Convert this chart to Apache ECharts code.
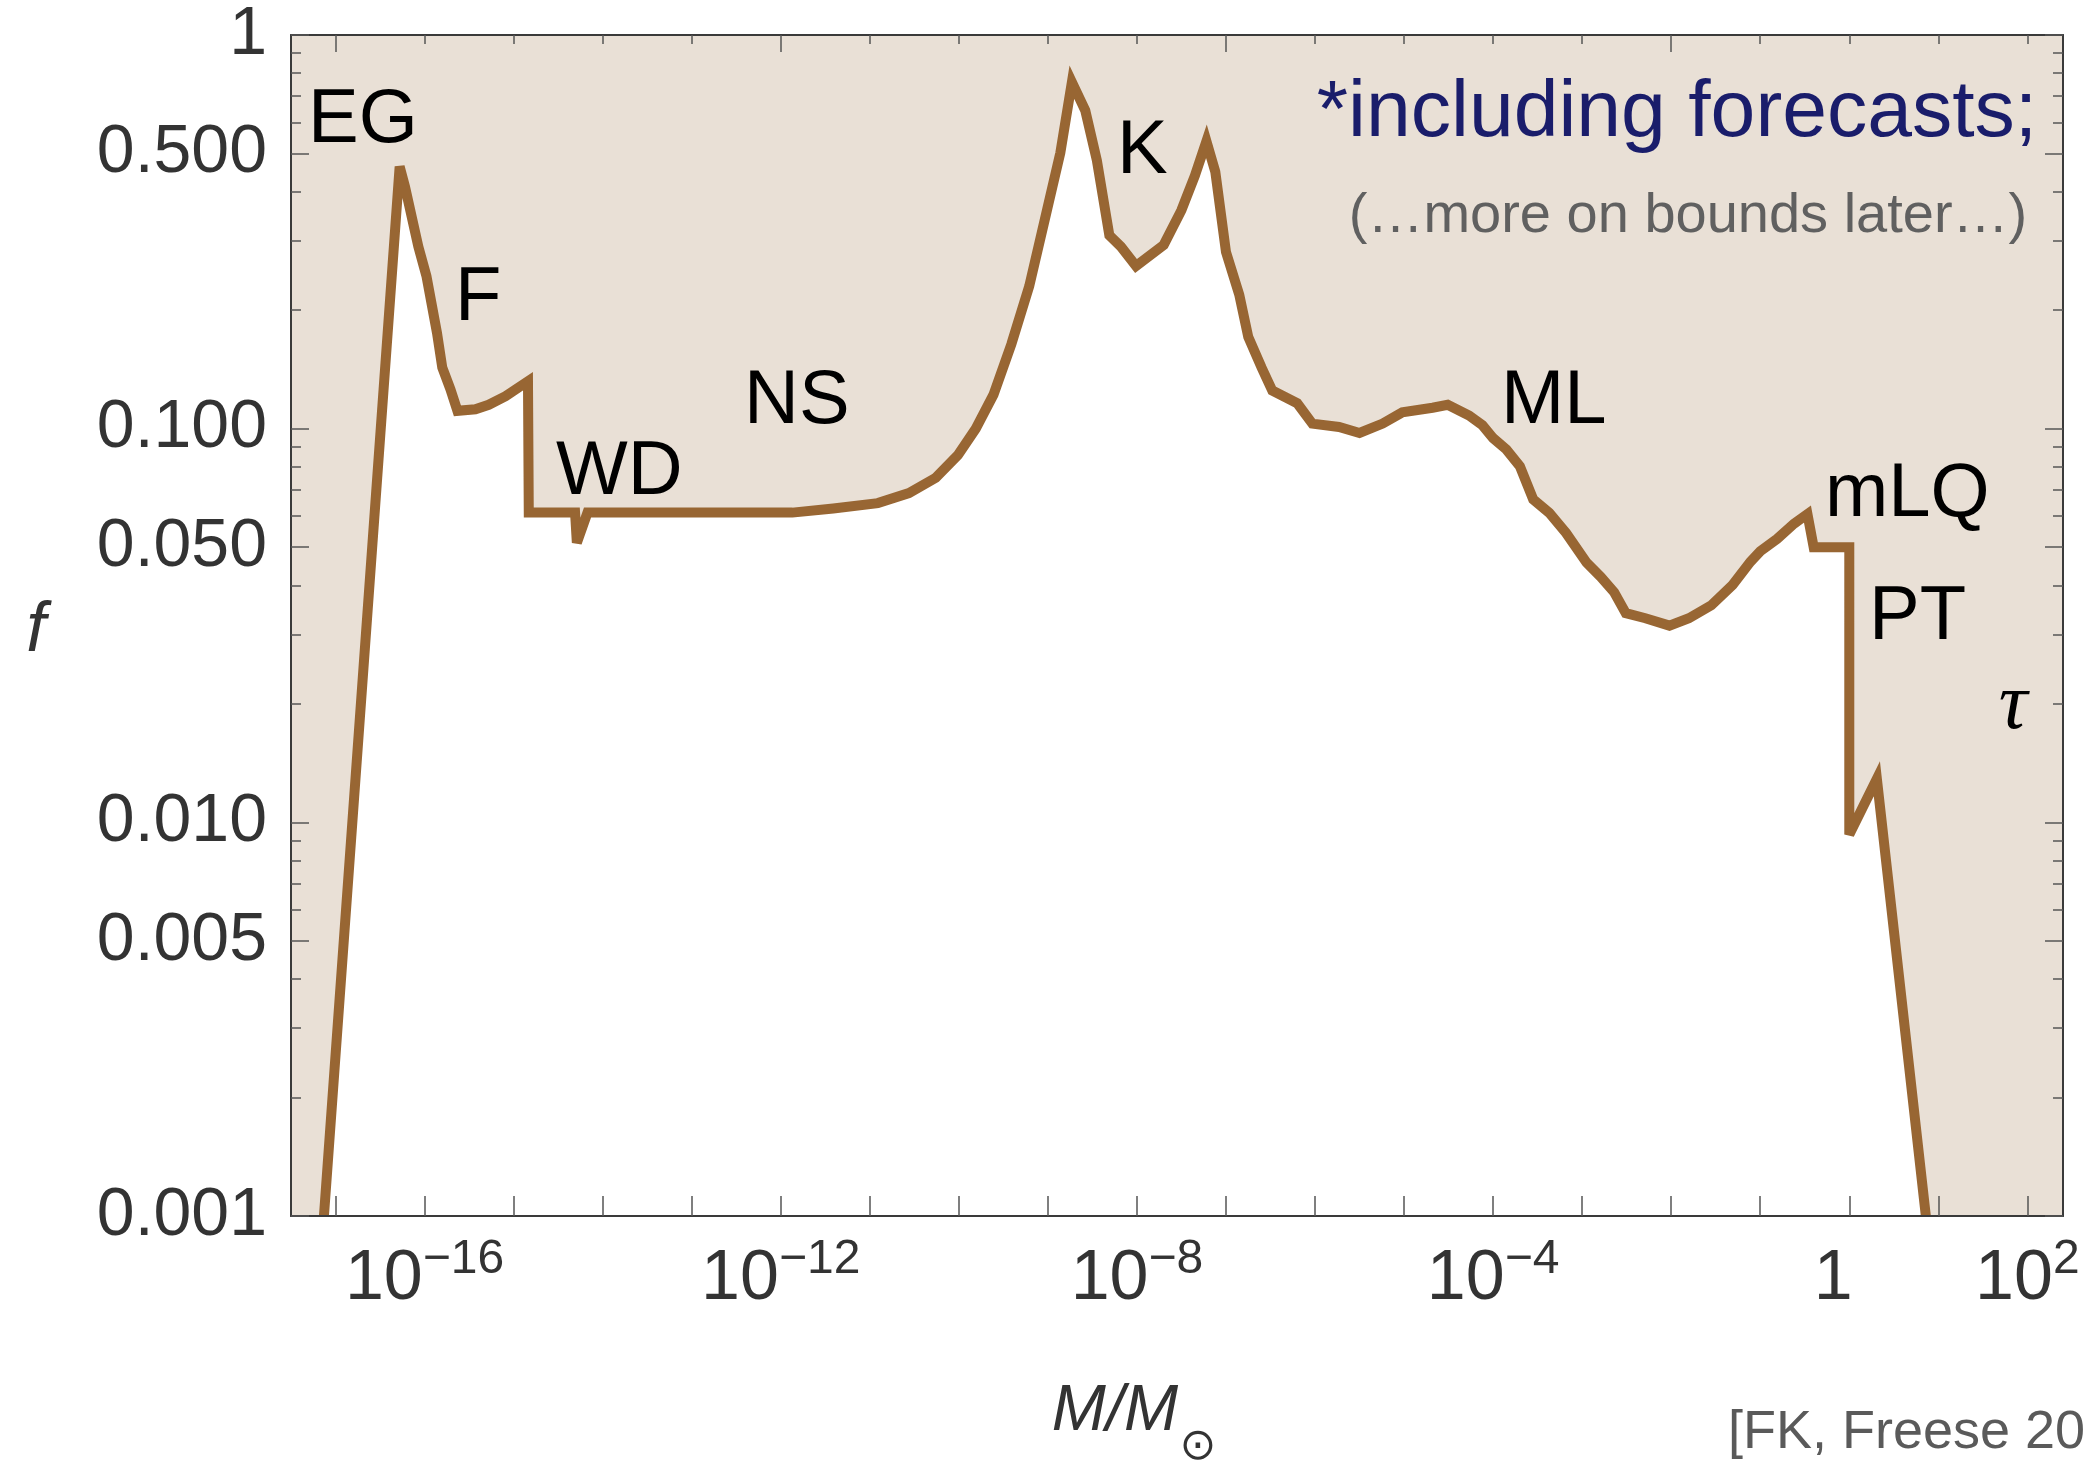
<!DOCTYPE html>
<html>
<head>
<meta charset="utf-8">
<title>PBH dark-matter fraction bounds</title>
<script src="https://cdn.jsdelivr.net/npm/echarts@6/dist/echarts.min.js"></script>
<style>
  html, body { margin: 0; padding: 0; background: #ffffff; }
  #chart { width: 2088px; height: 1464px; }
</style>
</head>
<body>
<div id="chart"></div>
<script>
// Upper bound on the dark-matter fraction f of primordial black holes
// as a function of their mass M (in solar masses).
const massValues = [
  7.41e-18, 5.25e-17, 6.03e-17, 8.51e-17, 1.05e-16, 1.38e-16, 1.58e-16, 1.95e-16, 2.34e-16,
  3.72e-16, 5.25e-16, 8.13e-16, 1.45e-15, 1.48e-15, 4.90e-15, 5.13e-15, 6.76e-15,
  1.35e-12, 3.89e-12, 1.23e-11, 2.75e-11, 5.50e-11, 9.77e-11, 1.55e-10, 2.45e-10, 3.89e-10,
  6.17e-10, 9.77e-10, 1.38e-9, 1.86e-9, 2.63e-9, 3.55e-9, 4.47e-9, 4.90e-9, 6.61e-9, 9.77e-9,
  2.00e-8, 3.16e-8, 4.47e-8, 6.03e-8, 7.59e-8, 1.00e-7, 1.41e-7, 1.78e-7, 2.51e-7, 3.31e-7,
  6.31e-7, 9.33e-7, 1.86e-6, 3.16e-6, 5.75e-6, 9.55e-6, 2.09e-5, 3.09e-5, 5.37e-5, 7.59e-5,
  1.00e-4, 1.41e-4, 2.00e-4, 2.82e-4, 4.27e-4, 6.61e-4, 1.12e-3, 1.62e-3, 2.29e-3, 3.09e-3,
  5.13e-3, 9.55e-3, 1.58e-2, 2.82e-2, 4.90e-2, 7.76e-2, 0.100, 0.155, 0.240, 0.339, 0.398,
  1, 1, 2.04, 7.24
];
const fractionValues = [
  0.001, 0.463, 0.412, 0.290, 0.244, 0.175, 0.143, 0.126, 0.111,
  0.112, 0.115, 0.121, 0.132, 0.0612, 0.0612, 0.0513, 0.0612,
  0.0612, 0.0627, 0.0647, 0.0686, 0.0750, 0.0857, 0.100, 0.122, 0.164,
  0.230, 0.359, 0.502, 0.759, 0.643, 0.480, 0.351, 0.310, 0.290, 0.259,
  0.293, 0.359, 0.439, 0.537, 0.449, 0.281, 0.219, 0.171, 0.143, 0.125,
  0.116, 0.103, 0.101, 0.0975, 0.103, 0.110, 0.113, 0.115, 0.108, 0.102,
  0.0946, 0.0885, 0.0802, 0.0661, 0.0611, 0.0543, 0.0457, 0.0420, 0.0384, 0.0340,
  0.0330, 0.0316, 0.0330, 0.0356, 0.0401, 0.0459, 0.0488, 0.0525, 0.0574, 0.0607, 0.0500,
  0.0500, 0.00931, 0.0129, 0.001
];

// Mass axis ticks
const massDecades = [1e-17, 1e-16, 1e-15, 1e-14, 1e-13, 1e-12, 1e-11, 1e-10, 1e-9, 1e-8,
  1e-7, 1e-6, 1e-5, 1e-4, 1e-3, 1e-2, 1e-1, 1, 10, 100];
const massLabelled = [1e-16, 1e-12, 1e-8, 1e-4, 1, 100];
const massTopLong = [1e-17, 1e-12, 1e-7, 1e-2];

// Fraction axis ticks
const fMajorTicks = [0.001, 0.005, 0.01, 0.05, 0.1, 0.5, 1];
const fMajorLabels = ['0.001', '0.005', '0.010', '0.050', '0.100', '0.500', '1'];
const fMinorTicks = [0.002, 0.003, 0.004, 0.006, 0.007, 0.008, 0.009,
  0.02, 0.03, 0.04, 0.06, 0.07, 0.08, 0.09,
  0.2, 0.3, 0.4, 0.6, 0.7, 0.8, 0.9];

// Constraint names drawn inside the plot
const regionNames = ['EG', 'F', 'WD', 'NS', 'K', 'ML', 'mLQ', 'PT'];

const seriesData = massValues.map((m, i) => [m, fractionValues[i]]);

const FONT = '"Liberation Sans", Arial, Helvetica, sans-serif';
const X_MIN = Math.pow(10, -17.5);
const X_MAX = Math.pow(10, 2.4);
const frameLine = { color: '#3a3a3a', width: 2 };
const tickLine = { color: '#555555', width: 1.5 };

function massLabel(v) {
  const e = Math.round(Math.log10(v));
  if (e === 0) return '{one|1}';
  return '{base|10}{sup|' + (e < 0 ? '\u2212' + (-e) : String(e)) + '}';
}
function fractionLabel(v) {
  for (let i = 0; i < fMajorTicks.length; i++) {
    if (Math.abs(Math.log10(v) - Math.log10(fMajorTicks[i])) < 1e-6) return fMajorLabels[i];
  }
  return '';
}

function xAxisDef(position, ticks, len, withLine, withLabels) {
  return {
    type: 'log', logBase: 10, min: X_MIN, max: X_MAX, position: position,
    z: 5,
    axisLine: { show: withLine, onZero: false, lineStyle: frameLine },
    axisTick: { show: true, inside: true, length: len, customValues: ticks, lineStyle: tickLine },
    axisLabel: withLabels ? {
      show: true, customValues: massLabelled, margin: 20, formatter: massLabel,
      rich: {
        base: { fontFamily: FONT, fontSize: 70, lineHeight: 79, color: '#333333', verticalAlign: 'bottom' },
        sup: { fontFamily: FONT, fontSize: 48, lineHeight: 79, color: '#333333', verticalAlign: 'bottom', padding: [0, 0, 31, 0] },
        one: { fontFamily: FONT, fontSize: 70, lineHeight: 79, color: '#333333', verticalAlign: 'bottom', padding: [0, 32, 0, 0] }
      }
    } : { show: false },
    splitLine: { show: false },
    minorTick: { show: false },
    minorSplitLine: { show: false }
  };
}
function yAxisDef(position, ticks, len, withLine, withLabels) {
  return {
    type: 'log', logBase: 10, min: 0.001, max: 1, position: position,
    z: 5,
    axisLine: { show: withLine, onZero: false, lineStyle: frameLine },
    axisTick: { show: true, inside: true, length: len, customValues: ticks, lineStyle: tickLine },
    axisLabel: withLabels ? {
      show: true, customValues: fMajorTicks, margin: 24, formatter: fractionLabel,
      fontFamily: FONT, fontSize: 68, color: '#333333'
    } : { show: false },
    splitLine: { show: false },
    minorTick: { show: false },
    minorSplitLine: { show: false }
  };
}

function label(text, x, y, opts) {
  return {
    type: 'text', x: x, y: y, z: 20, silent: true,
    style: Object.assign({
      text: text,
      fill: '#000000',
      font: 'normal 76px ' + FONT,
      align: 'left', verticalAlign: 'middle',
      textAlign: 'left', textVerticalAlign: 'middle'
    }, opts || {})
  };
}

const namePositions = [[308, 121], [455, 299], [556, 473], [744, 402], [1117, 152], [1501, 402], [1825, 495], [1869, 618]];
const graphics = regionNames.map((n, i) => label(n, namePositions[i][0], namePositions[i][1]));
graphics.push(
  label('\u03c4', 2013, 707, { font: 'italic 80px "Liberation Serif", "DejaVu Serif", serif', align: 'center', textAlign: 'center' }),
  label('*including forecasts;', 1677, 114, { font: 'normal 80.5px ' + FONT, fill: '#1a1d6b', align: 'center', textAlign: 'center' }),
  label('(\u2026more on bounds later\u2026)', 1688, 217, { font: 'normal 56px ' + FONT, fill: '#606060', align: 'center', textAlign: 'center' }),
  label('f', 36, 632, { font: 'italic 70px ' + FONT, fill: '#333333', align: 'center', textAlign: 'center' }),
  label('M/M', 1115, 1412, { font: 'italic 65px ' + FONT, fill: '#333333', align: 'center', textAlign: 'center' }),
  label('\u2299', 1198, 1448, { font: 'normal 44px "DejaVu Sans", sans-serif', fill: '#333333', align: 'center', textAlign: 'center' }),
  label('[FK, Freese 20', 1728, 1433, { font: 'normal 54px ' + FONT, fill: '#5a5a5a' })
);

const chart = echarts.init(document.getElementById('chart'), null, { renderer: 'canvas', width: 2088, height: 1464 });
chart.setOption({
  animation: false,
  backgroundColor: '#ffffff',
  grid: { left: 291, top: 35, width: 1772, height: 1181, show: true, backgroundColor: '#e9e0d6', borderWidth: 0, containLabel: false },
  xAxis: [
    xAxisDef('bottom', massDecades, 20, true, true),
    xAxisDef('top', massDecades, 9, true, false),
    xAxisDef('top', massTopLong, 17, false, false)
  ],
  yAxis: [
    yAxisDef('left', fMajorTicks, 18, true, true),
    yAxisDef('left', fMinorTicks, 10, false, false),
    yAxisDef('right', fMajorTicks, 18, true, false),
    yAxisDef('right', fMinorTicks, 10, false, false)
  ],
  series: [{
    type: 'line',
    xAxisIndex: 0, yAxisIndex: 0,
    data: seriesData,
    symbol: 'none', showSymbol: false,
    smooth: false,
    clip: true,
    z: 2,
    lineStyle: { color: '#986633', width: 10, join: 'miter', miterLimit: 4, cap: 'butt' },
    areaStyle: { color: '#ffffff', opacity: 1, origin: 'start' }
  }],
  graphic: { elements: graphics }
});
</script>
</body>
</html>
